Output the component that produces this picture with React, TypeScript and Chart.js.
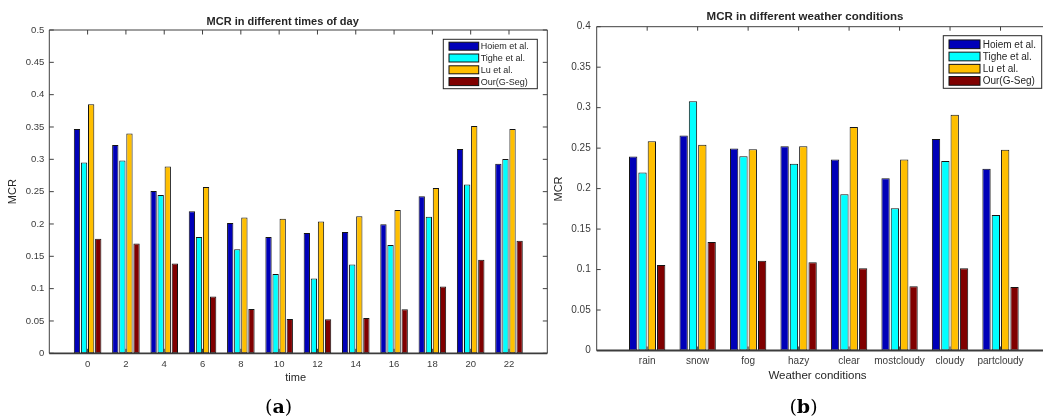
import React, { useEffect, useRef } from 'react';
import { Chart, registerables } from 'chart.js';

Chart.register(...registerables);

// ---------- data ----------
const seriesNames = ['Hoiem et al.', 'Tighe et al.', 'Lu et al.', 'Our(G-Seg)'];
const seriesColors = ['#0000B8', '#00FFFF', '#FFBF00', '#800000'];

const timeCategories = ['0', '2', '4', '6', '8', '10', '12', '14', '16', '18', '20', '22'];
const hoiemTime = [0.347, 0.322, 0.251, 0.2195, 0.2015, 0.18, 0.186, 0.1875, 0.1995, 0.243, 0.316, 0.293];
const tigheTime = [0.295, 0.298, 0.245, 0.18, 0.161, 0.1225, 0.1155, 0.1375, 0.1675, 0.211, 0.261, 0.3005];
const luTime = [0.385, 0.34, 0.289, 0.257, 0.21, 0.208, 0.204, 0.212, 0.2215, 0.2555, 0.3515, 0.347];
const ourTime = [0.177, 0.17, 0.139, 0.088, 0.0685, 0.053, 0.0525, 0.0545, 0.068, 0.1035, 0.1445, 0.174];

const weatherCategories = ['rain', 'snow', 'fog', 'hazy', 'clear', 'mostcloudy', 'cloudy', 'partcloudy'];
const hoiemWeather = [0.2395, 0.2655, 0.2495, 0.2522, 0.236, 0.2127, 0.2613, 0.2246];
const tigheWeather = [0.22, 0.3078, 0.24, 0.2308, 0.193, 0.1756, 0.234, 0.1674];
const luWeather = [0.2585, 0.2543, 0.2485, 0.2522, 0.276, 0.236, 0.2913, 0.248];
const ourWeather = [0.1056, 0.134, 0.111, 0.109, 0.1015, 0.0793, 0.1015, 0.0784];

const timeYMax = 0.5;
const weatherYMax = 0.4;
const yStep = 0.05;

const titleA = 'MCR in different times of day';
const titleB = 'MCR in different weather conditions';
const xTitleA = 'time';
const xTitleB = 'Weather conditions';
const yTitle = 'MCR';

// ---------- styling / layout ----------
const FONT = '"Liberation Sans", Arial, Helvetica, sans-serif';
const TEXT = '#262626';
const TICKTEXT = '#3a3a3a';
const AXIS = '#404040';

type Spec = {
  canvasLeft: number;
  width: number;
  plot: { left: number; top: number; right: number; bottom: number };
  categories: string[];
  series: number[][];
  yMax: number;
  tickFont: number;
  tickPadX: number;
  tickPadY: number;
  tickLen: number;
  title: { text: string; x: number; y: number; size: number };
  xTitle: { text: string; x: number; y: number; size: number };
  yTitle: { text: string; x: number; y: number; size: number };
  legend: { x: number; y: number; w: number; h: number; swX: number; swW: number; swH: number; row0: number; rowGap: number; textX: number; size: number };
};

const H = 420;

const specA: Spec = {
  canvasLeft: 0,
  width: 560,
  plot: { left: 49.3, top: 30, right: 547.3, bottom: 353.3 },
  categories: timeCategories,
  series: [hoiemTime, tigheTime, luTime, ourTime],
  yMax: timeYMax,
  tickFont: 9.5,
  tickPadX: 5,
  tickPadY: 5,
  tickLen: 4.5,
  title: { text: titleA, x: 282.7, y: 22, size: 11 },
  xTitle: { text: xTitleA, x: 295.7, y: 378.3, size: 11 },
  yTitle: { text: yTitle, x: 13, y: 191.7, size: 11 },
  legend: { x: 443.3, y: 39.3, w: 94, h: 49.4, swX: 449, swW: 29.7, swH: 8, row0: 46.2, rowGap: 11.8, textX: 480.7, size: 9 },
};

const specB: Spec = {
  canvasLeft: 540,
  width: 520,
  plot: { left: 56.7, top: 26.7, right: 511, bottom: 350.5 },
  categories: weatherCategories,
  series: [hoiemWeather, tigheWeather, luWeather, ourWeather],
  yMax: weatherYMax,
  tickFont: 10,
  tickPadX: 5,
  tickPadY: 6,
  tickLen: 4,
  title: { text: titleB, x: 265, y: 17, size: 11.5 },
  xTitle: { text: xTitleB, x: 277.5, y: 376, size: 11.5 },
  yTitle: { text: yTitle, x: 19, y: 189, size: 11 },
  legend: { x: 403.3, y: 35.7, w: 98.4, h: 52.6, swX: 409, swW: 31, swH: 8.7, row0: 44.3, rowGap: 12.2, textX: 442.7, size: 10 },
};

const decorPlugin = {
  id: 'decor',
  beforeDatasetsDraw(chart: any, _args: any, opts: any) {
    const { ctx, chartArea: a, scales } = chart;
    const xs = scales.x;
    const ys = scales.y;
    const tl = opts.tickLen;
    ctx.save();
    ctx.strokeStyle = AXIS;
    ctx.lineWidth = 1;
    ctx.beginPath();
    ys.ticks.forEach((_t: any, i: number) => {
      const py = ys.getPixelForTick(i);
      ctx.moveTo(a.left, py);
      ctx.lineTo(a.left + tl, py);
      ctx.moveTo(a.right, py);
      ctx.lineTo(a.right - tl, py);
    });
    xs.ticks.forEach((t: any, i: number) => {
      if (!xs.getLabelForValue(t.value)) return;
      const px = xs.getPixelForTick(i);
      ctx.moveTo(px, a.top);
      ctx.lineTo(px, a.top + tl);
      ctx.moveTo(px, a.bottom);
      ctx.lineTo(px, a.bottom - tl);
    });
    ctx.stroke();
    // box (left, top, right)
    ctx.beginPath();
    ctx.moveTo(a.left, a.bottom);
    ctx.lineTo(a.left, a.top);
    ctx.lineTo(a.right, a.top);
    ctx.lineTo(a.right, a.bottom);
    ctx.stroke();
    ctx.restore();
  },
  afterDatasetsDraw(chart: any) {
    const { ctx, chartArea: a } = chart;
    ctx.save();
    ctx.strokeStyle = '#3c3c3c';
    ctx.lineWidth = 1.8;
    ctx.beginPath();
    ctx.moveTo(a.left, a.bottom);
    ctx.lineTo(a.right, a.bottom);
    ctx.stroke();
    ctx.restore();
  },
  afterDraw(chart: any, _args: any, opts: any) {
    const { ctx } = chart;
    const s: Spec = opts.spec;
    ctx.save();
    ctx.fillStyle = TEXT;
    ctx.textAlign = 'center';
    ctx.textBaseline = 'middle';
    ctx.font = `bold ${s.title.size}px ${FONT}`;
    ctx.fillText(s.title.text, s.title.x, s.title.y);
    ctx.font = `${s.xTitle.size}px ${FONT}`;
    ctx.fillText(s.xTitle.text, s.xTitle.x, s.xTitle.y);
    ctx.save();
    ctx.translate(s.yTitle.x, s.yTitle.y);
    ctx.rotate(-Math.PI / 2);
    ctx.font = `${s.yTitle.size}px ${FONT}`;
    ctx.fillText(s.yTitle.text, 0, 0);
    ctx.restore();

    // legend
    const L = s.legend;
    ctx.fillStyle = '#ffffff';
    ctx.fillRect(L.x, L.y, L.w, L.h);
    ctx.strokeStyle = TEXT;
    ctx.lineWidth = 1;
    ctx.strokeRect(L.x, L.y, L.w, L.h);
    ctx.font = `${L.size}px ${FONT}`;
    ctx.textAlign = 'left';
    chart.data.datasets.forEach((ds: any, i: number) => {
      const cy = L.row0 + i * L.rowGap;
      ctx.fillStyle = ds.backgroundColor;
      ctx.fillRect(L.swX, cy - L.swH / 2, L.swW, L.swH);
      ctx.strokeStyle = '#111';
      ctx.strokeRect(L.swX, cy - L.swH / 2, L.swW, L.swH);
      ctx.fillStyle = TEXT;
      ctx.fillText(ds.label, L.textX, cy + 0.5);
    });
    ctx.restore();
  },
};

function makeConfig(s: Spec): any {
  const labels = ['', ...s.categories, ''];
  const datasets = s.series.map((vals, i) => ({
    label: seriesNames[i],
    data: [null, ...vals, null],
    backgroundColor: seriesColors[i],
    borderColor: '#141414',
    borderWidth: 1,
    borderSkipped: false,
    categoryPercentage: 0.74,
    barPercentage: 0.89,
  }));
  return {
    type: 'bar',
    data: { labels, datasets },
    plugins: [decorPlugin],
    options: {
      responsive: false,
      animation: false,
      events: [],
      layout: { padding: { left: 0, top: s.plot.top, right: s.width - s.plot.right, bottom: 0 } },
      plugins: {
        legend: { display: false },
        title: { display: false },
        tooltip: { enabled: false },
        decor: { spec: s, tickLen: s.tickLen },
      },
      scales: {
        x: {
          type: 'category',
          offset: false,
          grid: { display: false, drawTicks: false, tickLength: 0 },
          border: { display: false },
          ticks: {
            autoSkip: false,
            maxRotation: 0,
            minRotation: 0,
            padding: s.tickPadX,
            color: TICKTEXT,
            font: { family: FONT, size: s.tickFont },
          },
          afterFit: (sc: any) => {
            sc.height = H - s.plot.bottom;
          },
        },
        y: {
          min: 0,
          max: s.yMax,
          grid: { display: false, drawTicks: false, tickLength: 0 },
          border: { display: false },
          ticks: {
            stepSize: yStep,
            padding: s.tickPadY,
            color: TICKTEXT,
            font: { family: FONT, size: s.tickFont },
            callback: (v: any) => String(Math.round(Number(v) * 100) / 100),
          },
          afterFit: (sc: any) => {
            sc.width = s.plot.left;
          },
        },
      },
    },
  };
}

function Panel({ spec }: { spec: Spec }) {
  const ref = useRef<HTMLCanvasElement | null>(null);
  useEffect(() => {
    if (!ref.current) return;
    const chart = new Chart(ref.current, makeConfig(spec));
    return () => chart.destroy();
  }, [spec]);
  return (
    <canvas
      ref={ref}
      width={spec.width}
      height={H}
      style={{ position: 'absolute', left: spec.canvasLeft, top: 0, width: spec.width, height: H, display: 'block' }}
    />
  );
}

const captionStyle: React.CSSProperties = {
  position: 'absolute',
  top: 396.5,
  width: 80,
  textAlign: 'center',
  fontFamily: '"DejaVu Serif", "Liberation Serif", serif',
  fontSize: 19,
  lineHeight: 1,
  color: '#000',
};

export default function App() {
  return (
    <div
      style={{
        position: 'fixed',
        left: 0,
        top: 0,
        width: 1043,
        height: 420,
        overflow: 'hidden',
        background: '#ffffff',
      }}
    >
      <Panel spec={specA} />
      <Panel spec={specB} />
      <div style={{ ...captionStyle, left: 278.7 - 40 }}>
        (<b>a</b>)
      </div>
      <div style={{ ...captionStyle, left: 803.5 - 40 }}>
        (<b>b</b>)
      </div>
    </div>
  );
}
